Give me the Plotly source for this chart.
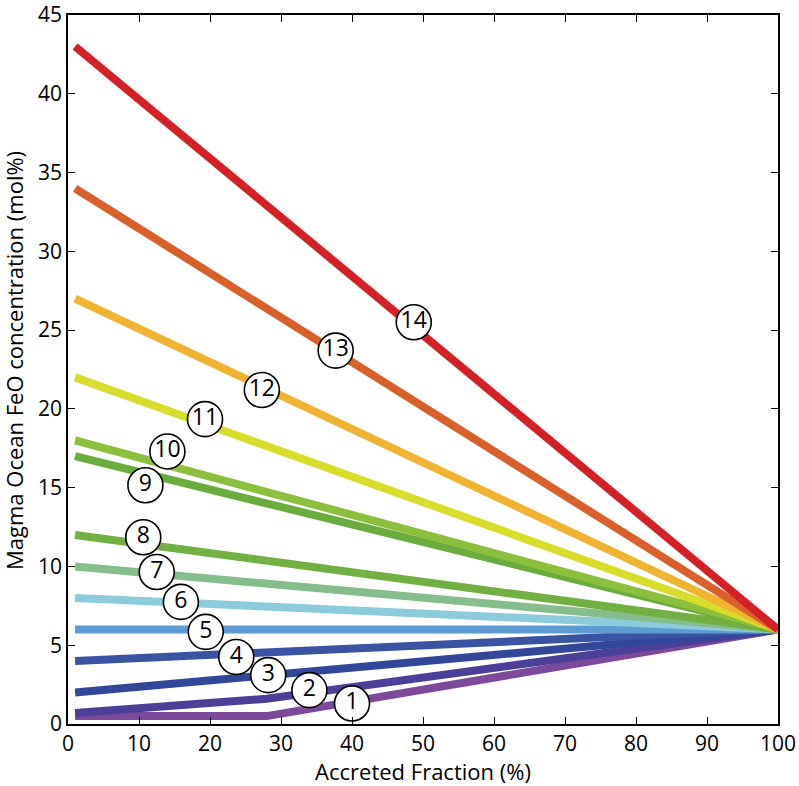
import plotly.graph_objects as go

# Data
line_ids = [1, 2, 3, 4, 5, 6, 7, 8, 9, 10, 11, 12, 13, 14]
line_x = [
    [1, 28, 100],
    [1, 28, 100],
    [1, 100],
    [1, 100],
    [1, 100],
    [1, 100],
    [1, 100],
    [1, 100],
    [1, 100],
    [1, 100],
    [1, 100],
    [1, 100],
    [1, 100],
    [1, 100],
]
line_y = [
    [0.5, 0.5, 6],
    [0.7, 1.6, 6],
    [2, 6],
    [4, 6],
    [6, 6],
    [8, 6],
    [10, 6],
    [12, 6],
    [17, 6],
    [18, 6],
    [22, 6],
    [27, 6],
    [34, 6],
    [43, 6],
]
line_colors = [
    "#7d4a9b", "#4b3f98", "#33479a", "#3a53a3", "#5f9bd3", "#8bcbdb",
    "#86bd8c", "#72b043", "#6aad3e", "#8cbf3d", "#d8dc2a", "#f0b332",
    "#d9602a", "#d42127",
]
label_x = [40, 34, 28.2, 23.7, 19.4, 15.9, 12.5, 10.6, 10.9, 14, 19.3, 27.3, 37.7, 48.7]
label_y = [1.3, 2.15, 3.1, 4.25, 5.85, 7.75, 9.65, 11.85, 15.15, 17.3, 19.35, 21.2, 23.7, 25.5]

x_title = "Accreted Fraction (%)"
y_title = "Magma Ocean FeO concentration (mol%)"

fig = go.Figure()
for i, lid in enumerate(line_ids):
    fig.add_trace(go.Scatter(
        x=line_x[i], y=line_y[i], mode="lines",
        line=dict(color=line_colors[i], width=8),
        showlegend=False, hoverinfo="skip",
    ))

fig.add_trace(go.Scatter(
    x=label_x, y=label_y, mode="markers+text",
    text=[str(v) for v in line_ids], textposition="middle center",
    textfont=dict(size=23, color="black", family="Open Sans"),
    marker=dict(size=35, color="white", line=dict(color="black", width=1.6)),
    showlegend=False, hoverinfo="skip",
))

axis_common = dict(
    showline=True, linecolor="black", linewidth=1.5, mirror="ticks",
    ticks="inside", ticklen=7, tickcolor="black", tickwidth=1.2,
    showgrid=False, zeroline=False, automargin=False,
    ticklabeloverflow="allow",
    tickfont=dict(size=21, color="black", family="Open Sans"),
)

fig.update_layout(
    width=799, height=786,
    margin=dict(l=68, r=21, t=15, b=62),
    plot_bgcolor="white", paper_bgcolor="white",
    font=dict(family="Open Sans", color="black"),
    xaxis=dict(range=[0, 100], dtick=10, tick0=0,
               title=dict(text=x_title, font=dict(size=22), standoff=4),
               **axis_common),
    yaxis=dict(range=[0, 45], dtick=5, tick0=0, **axis_common),
)

fig.add_annotation(
    text=y_title, xref="paper", yref="paper", x=0, y=0.512,
    xanchor="center", yanchor="middle", xshift=-54, textangle=-90,
    showarrow=False, font=dict(size=22, color="black", family="Open Sans"),
)

fig.write_html("out.html", config={"displayModeBar": False},
               post_script="document.body.style.margin='0';")
